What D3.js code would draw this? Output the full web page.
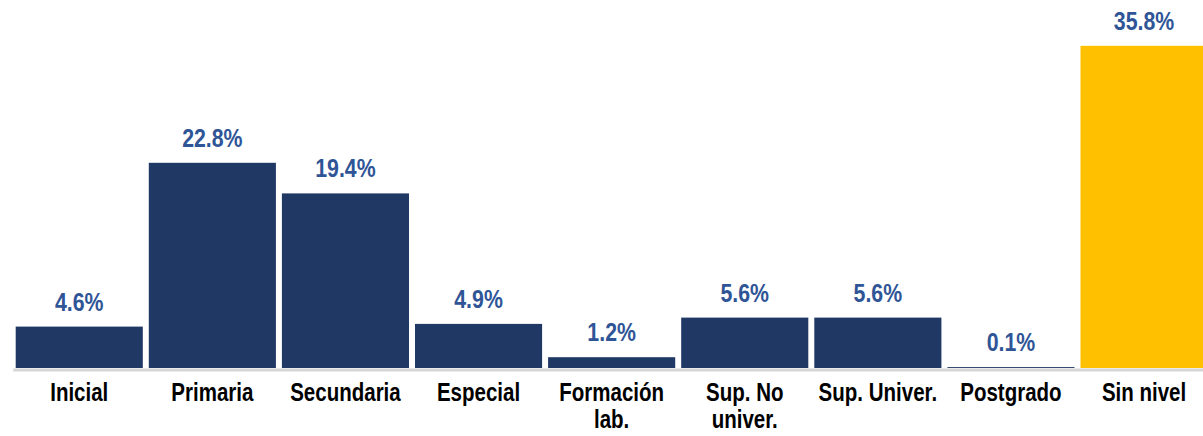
<!DOCTYPE html>
<html lang="es">
  <head>
    <meta charset="UTF-8" />
    <title>Nivel educativo</title>
    <script src="https://d3js.org/d3.v7.min.js"></script>
    <style>
      body { margin: 0; background: #fff; }
      svg text {
        font-family: 'Liberation Sans Narrow', 'Arial Narrow', 'Liberation Sans', Arial, sans-serif;
        font-weight: bold;
      }
      .value-label { fill: #2f5597; font-size: 26px; }
      .axis-x text { fill: #000; font-size: 25px; }
      .axis-x path { stroke: #d6d6d6; stroke-width: 3; }
    </style>
  </head>
  <body>
    <div id="chart-container"></div>
    <script>
      // data
      const categories = ['Inicial', 'Primaria', 'Secundaria', 'Especial', 'Formación lab.',
        'Sup. No univer.', 'Sup. Univer.', 'Postgrado', 'Sin nivel'];
      const tickLabels = [['Inicial'], ['Primaria'], ['Secundaria'], ['Especial'], ['Formación', 'lab.'],
        ['Sup. No', 'univer.'], ['Sup. Univer.'], ['Postgrado'], ['Sin nivel']];
      const values = [4.6, 22.8, 19.4, 4.9, 1.2, 5.6, 5.6, 0.1, 35.8];
      const highlight = ['Sin nivel'];

      const svgWidth = 1203;
      const svgHeight = 436;
      const baseY = 368;
      // no narrow font installed, so squeeze the bold sans horizontally
      const squeeze = 0.82;

      const svg = d3.select('#chart-container')
        .append('svg')
        .attr('width', svgWidth)
        .attr('height', svgHeight);

      const x = d3.scaleBand()
        .domain(categories)
        .range([12.7, 1210.6])
        .paddingInner(0.045)
        .paddingOuter(0.0225);

      const y = d3.scaleLinear()
        .domain([0, 40])
        .range([baseY, baseY - 360]);

      svg.selectAll('rect.bar')
        .data(categories)
        .enter()
        .append('rect')
        .attr('class', 'bar')
        .attr('x', (d) => x(d))
        .attr('y', (d, i) => y(values[i]))
        .attr('width', x.bandwidth())
        .attr('height', (d, i) => y(0) - y(values[i]))
        .attr('fill', (d) => highlight.includes(d) ? '#ffc000' : '#203864');

      // axis line + category labels
      const axis = svg.append('g')
        .attr('class', 'axis-x')
        .attr('transform', `translate(0,${baseY + 1.5})`)
        .call(d3.axisBottom(x).tickSize(0).tickSizeOuter(0));

      axis.selectAll('.tick text')
        .text(null)
        .attr('y', 0)
        .attr('dy', null)
        .attr('transform', `scale(${squeeze},1)`)
        .each(function (d) {
          const lines = tickLabels[categories.indexOf(d)];
          const t = d3.select(this);
          lines.forEach((line, k) => {
            t.append('tspan')
              .attr('x', 0)
              .attr('y', 32 + k * 27)
              .text(line);
          });
        });

      svg.selectAll('text.value-label')
        .data(categories)
        .enter()
        .append('text')
        .attr('class', 'value-label')
        .attr('transform', (d, i) =>
          `translate(${x(d) + x.bandwidth() / 2},${y(values[i]) - 16}) scale(${squeeze},1)`)
        .attr('text-anchor', 'middle')
        .text((d, i) => values[i].toFixed(1) + '%');
    </script>
  </body>
</html>
